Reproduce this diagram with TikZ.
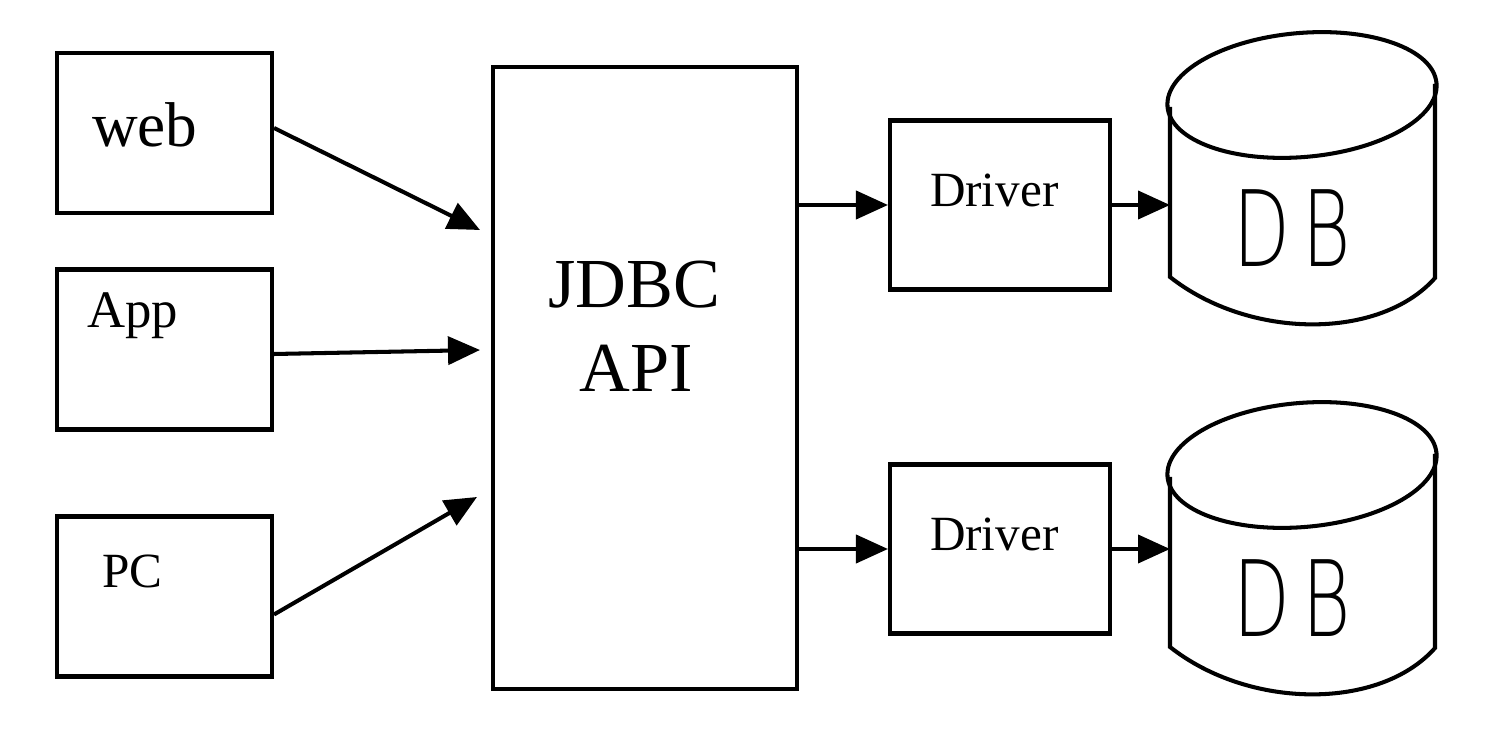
\documentclass[tikz,border=0pt]{standalone}
\usepackage{fontspec}
\setmainfont{Liberation Serif}
\newfontfamily\dbfont{DejaVu Sans ExtraLight}
\usetikzlibrary{%
  arrows.meta,%
  positioning,% wg. " of "
  calc
}

\begin{document}
\begin{tikzpicture}
  [
  draw=black, >={Triangle[length=3.2mm,width=2.8mm]}, line width=1.15pt,
  client/.style={rectangle, minimum height=16mm, minimum width=21.5mm, draw=black},
  api/.style={rectangle, minimum height=62.2mm, minimum width=30.4mm, draw=black},
  driver/.style={rectangle, minimum height=16.9mm, minimum width=22mm, draw=black},
  label/.style={inner sep=0pt, anchor=base west},
  dblabel/.style={inner sep=0pt, font=\dbfont\fontsize{30}{33}\selectfont}
  ]

\useasboundingbox (0,0) rectangle (14.98,-7.54);

\node[client] (web) at (1.645,-1.33) {};
\node[client] (app) at (1.645,-3.495) {};
\node[client] (pc) at (1.645,-5.965) {};

\node[label, font=\fontsize{18}{20}\selectfont] (webtext) at (0.90,-1.47) {web};
\node[label, font=\fontsize{15}{18}\selectfont] (apptext) at (0.85,-3.28) {App};
\node[label, font=\fontsize{14}{17}\selectfont] (pctext) at (1.00,-5.87) {PC};

\node[api] (api) at (6.45,-3.78) {};
\node[anchor=base, inner sep=0pt, font=\fontsize{20}{24}\selectfont] (jdbctext) at (6.34,-3.08) {JDBC};
\node[anchor=base, inner sep=0pt, font=\fontsize{20}{24}\selectfont] (apitext) at (6.36,-3.92) {API};

\coordinate (apiin1) at (4.80,-2.30);
\coordinate (apiin2) at (4.80,-3.50);
\coordinate (apiin3) at (4.77,-4.97);

\draw[->] ([yshift=0.5mm]web.east) -- (apiin1);
\draw[->] ([yshift=-0.45mm]app.east) -- (apiin2);
\draw[->] ([yshift=-1.8mm]pc.east) -- (apiin3);

\foreach \d/\y/\oy in {1/-2.05/0, 2/-5.49/-3.70} {
  \node[driver] (driver\d) at (10.00,\y) {};
  \node[label, font=\fontsize{14}{17}\selectfont] (drivertext\d) at ($(driver\d.center)+(-0.72,-0.02)$) {Driver};
  \draw[->] (api.east |- driver\d.west) -- (driver\d.west);

  \begin{scope}[yshift=\oy cm]
    \draw[rotate around={5:(13.02,-0.95)}] (13.02,-0.95) ellipse (1.35 and 0.62);
    \draw (11.70,-1.07) -- (11.70,-2.77) .. controls (12.50,-3.40) and (13.80,-3.40) .. (14.35,-2.78) -- (14.35,-0.84);
    \node[dblabel] (db\d) at (12.92,-2.28) {\scalebox{0.7}[1]{D\kern5pt B}};
    \coordinate (dbin\d) at (11.70,-2.00);
  \end{scope}

  \draw[->] (driver\d.east) -- (driver\d.east -| dbin\d);
}

\end{tikzpicture}
\end{document}
